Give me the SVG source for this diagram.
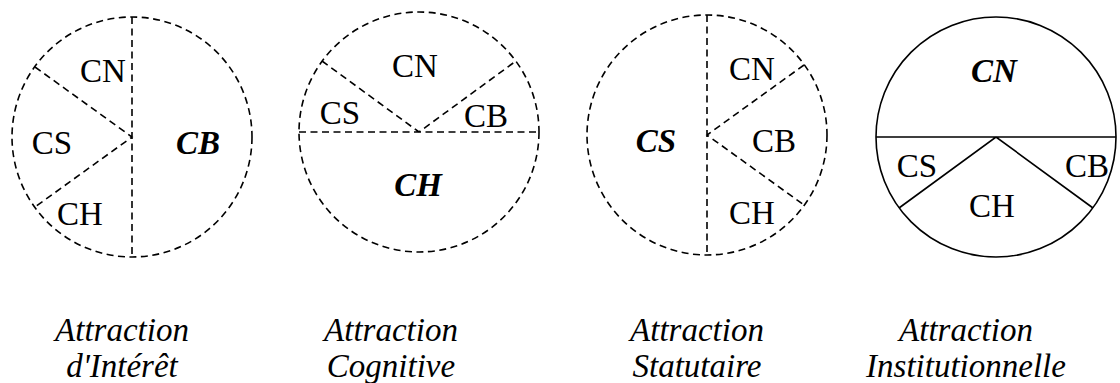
<svg xmlns="http://www.w3.org/2000/svg" width="1120" height="383" viewBox="0 0 1120 383">
<style>
.c{fill:none;stroke:#000;stroke-width:1.6}
.d{stroke-dasharray:7,4.5}
text{font-family:'Liberation Serif','DejaVu Serif',serif;fill:#000;text-anchor:middle}
.l{font-size:33px}
.b{font-weight:bold;font-style:italic}
.cap{font-size:33px;font-style:italic}
</style>
<rect width="1120" height="383" fill="#fff"/>
<g id="interet">
<circle class="c d" cx="132" cy="137" r="120"/>
<path class="c d" d="M132 17V257M35 67L132 137L35 207"/>
<text class="l" x="103" y="82">CN</text>
<text class="l" x="52" y="154">CS</text>
<text class="l" x="80" y="225">CH</text>
<text class="l b" x="198" y="154">CB</text>
<text class="cap" x="122" y="341">Attraction</text>
<text class="cap" x="122" y="377">d'Intérêt</text>
</g>
<g id="cognitive">
<circle class="c d" cx="419" cy="132" r="120"/>
<path class="c d" d="M299 132H539M322 61L419 132L516 61"/>
<text class="l" x="415" y="77">CN</text>
<text class="l" x="340" y="124">CS</text>
<text class="l" x="486" y="127">CB</text>
<text class="l b" x="418" y="196">CH</text>
<text class="cap" x="391" y="341">Attraction</text>
<text class="cap" x="391" y="377">Cognitive</text>
</g>
<g id="statutaire">
<circle class="c d" cx="707" cy="135" r="120"/>
<path class="c d" d="M707 15V255M804 65L707 135L804 205"/>
<text class="l" x="752" y="80">CN</text>
<text class="l" x="774" y="152">CB</text>
<text class="l" x="752" y="224">CH</text>
<text class="l b" x="656" y="152">CS</text>
<text class="cap" x="697" y="341">Attraction</text>
<text class="cap" x="697" y="377">Statutaire</text>
</g>
<g id="institutionnelle">
<circle class="c" cx="996" cy="137" r="120"/>
<path class="c" d="M876 137H1116M899 208L996 137L1093 208"/>
<text class="l b" x="994" y="82">CN</text>
<text class="l" x="917" y="177">CS</text>
<text class="l" x="1087" y="177">CB</text>
<text class="l" x="992" y="217">CH</text>
<text class="cap" x="966" y="341">Attraction</text>
<text class="cap" x="966" y="377">Institutionnelle</text>
</g>
<g id="connectors"/>
</svg>
